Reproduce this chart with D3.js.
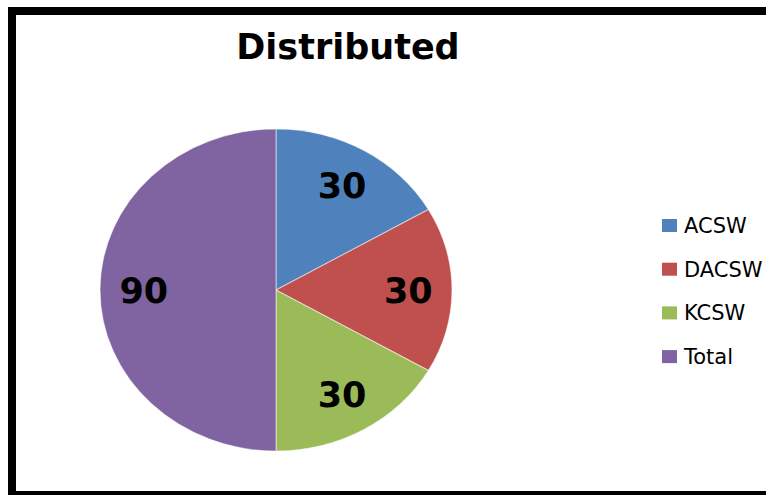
<!DOCTYPE html>
<html>
<head>
<meta charset="utf-8">
<title>Distributed</title>
<style>
  body { margin: 0; background: #fff; }
  svg { display: block; font-family: "DejaVu Sans", Verdana, sans-serif; }
</style>
</head>
<body>
<div id="chart"></div>
<script src="https://d3js.org/d3.v7.min.js"></script>
<script>
var categories = ["ACSW", "DACSW", "KCSW", "Total"];
var values = [30, 30, 30, 90];
var colors = ["#4F81BD", "#C0504D", "#9BBB59", "#8064A2"];

var width = 766, height = 495;
var cx = 276, cy = 290, radius = 161, stretch = 1.093; // the pie is drawn a bit wide

var svg = d3.select("#chart").append("svg")
    .attr("width", width)
    .attr("height", height);

// heavy frame, runs off the right and bottom edges
svg.append("rect")
    .attr("x", 12).attr("y", 11)
    .attr("width", 820).attr("height", 484)
    .attr("fill", "#fff")
    .attr("stroke", "#000")
    .attr("stroke-width", 8);

svg.append("text")
    .attr("x", 348).attr("y", 59)
    .attr("text-anchor", "middle")
    .style("font-size", "35px")
    .style("font-weight", "bold")
    .text("Distributed");

var data = categories.map(function(c, i) { return { name: c, value: values[i], color: colors[i] }; });

var pie = d3.pie().sort(null).value(function(d) { return d.value; });
var arc = d3.arc().innerRadius(0).outerRadius(radius);
var labelArc = d3.arc().innerRadius(121).outerRadius(121);

var g = svg.append("g")
    .attr("transform", "translate(" + cx + "," + cy + ") scale(" + stretch + ",1)");

var slices = pie(data);

g.selectAll("path")
    .data(slices)
  .enter().append("path")
    .attr("d", arc)
    .attr("fill", function(d) { return d.data.color; })
    .attr("stroke", "#fff")
    .attr("stroke-opacity", 0.5)
    .attr("stroke-width", 1);

svg.selectAll("text.lbl")
    .data(slices)
  .enter().append("text")
    .attr("class", "lbl")
    .attr("x", function(d) { return cx + labelArc.centroid(d)[0] * stretch; })
    .attr("y", function(d) { return cy + labelArc.centroid(d)[1]; })
    .attr("dy", "0.36em")
    .attr("text-anchor", "middle")
    .style("font-size", "35px")
    .style("font-weight", "bold")
    .style("fill", "#000")
    .text(function(d) { return d.data.value; });

// legend
var legend = svg.selectAll("g.leg")
    .data(data)
  .enter().append("g")
    .attr("class", "leg")
    .attr("transform", function(d, i) { return "translate(662," + (225.5 + i * 43.7) + ")"; });

legend.append("rect")
    .attr("x", 0).attr("y", -6.5)
    .attr("width", 15).attr("height", 13)
    .attr("fill", function(d) { return d.color; });

legend.append("text")
    .attr("x", 22).attr("y", 0)
    .attr("dy", "0.36em")
    .style("font-size", "21px")
    .style("fill", "#000")
    .text(function(d) { return d.name; });
</script>
</body>
</html>
